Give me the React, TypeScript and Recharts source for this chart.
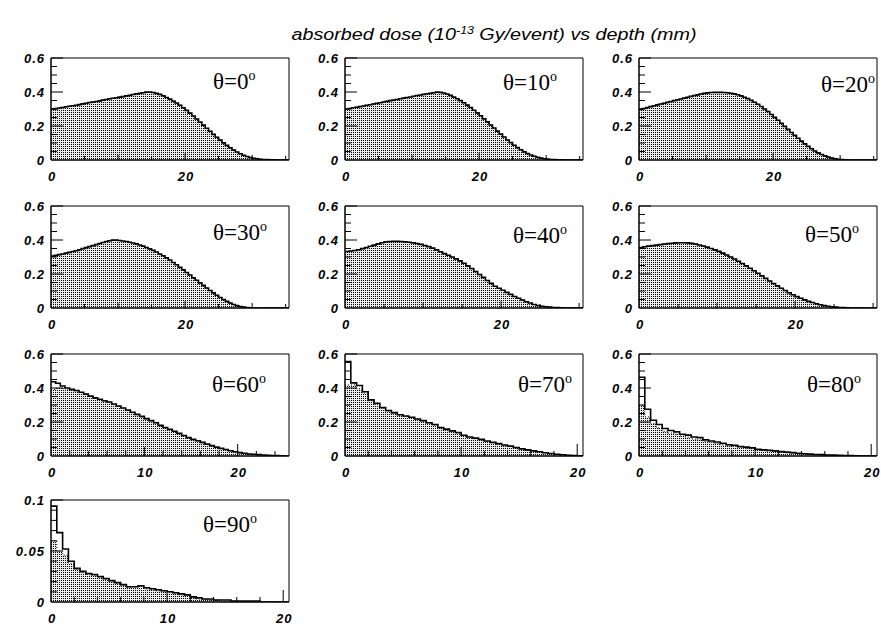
import React from 'react';
import { ComposedChart, Area, Line, XAxis, YAxis, ReferenceArea, ReferenceLine } from 'recharts';

// ---------- data ----------
const BIN_WIDTH = 0.5; // mm
const angles = ['0', '10', '20', '30', '40', '50', '60', '70', '80', '90'];

const theta0Line = [
  0.300, 0.302, 0.306, 0.309, 0.313, 0.316, 0.319, 0.322, 0.326, 0.330,
  0.334, 0.338, 0.341, 0.344, 0.348, 0.352, 0.356, 0.360, 0.363, 0.366,
  0.370, 0.373, 0.377, 0.380, 0.385, 0.389, 0.393, 0.396, 0.399, 0.400,
  0.397, 0.392, 0.386, 0.378, 0.368, 0.358, 0.347, 0.335, 0.322, 0.307,
  0.292, 0.276, 0.259, 0.241, 0.223, 0.205, 0.187, 0.169, 0.151, 0.134,
  0.117, 0.101, 0.086, 0.072, 0.059, 0.047, 0.037, 0.028, 0.021, 0.015,
  0.010, 0.007, 0.004, 0.003, 0.002, 0.001, 0.001, 0, 0, 0, 0,
];
const theta10Line = [
  0.300, 0.303, 0.307, 0.310, 0.314, 0.318, 0.322, 0.325, 0.329, 0.333,
  0.337, 0.341, 0.345, 0.349, 0.352, 0.356, 0.360, 0.364, 0.368, 0.371,
  0.375, 0.379, 0.382, 0.386, 0.390, 0.393, 0.396, 0.399, 0.398, 0.394,
  0.388, 0.380, 0.370, 0.360, 0.349, 0.337, 0.323, 0.309, 0.293, 0.277,
  0.260, 0.242, 0.224, 0.206, 0.188, 0.170, 0.152, 0.135, 0.118, 0.102,
  0.087, 0.073, 0.060, 0.048, 0.038, 0.029, 0.022, 0.016, 0.011, 0.007,
  0.005, 0.003, 0.002, 0.001, 0.001, 0, 0, 0, 0, 0, 0,
];
const theta20Line = [
  0.298, 0.303, 0.308, 0.314, 0.319, 0.324, 0.329, 0.334, 0.339, 0.344,
  0.349, 0.354, 0.359, 0.364, 0.369, 0.374, 0.379, 0.383, 0.388, 0.392,
  0.395, 0.397, 0.398, 0.398, 0.398, 0.397, 0.396, 0.393, 0.389, 0.384,
  0.377, 0.369, 0.361, 0.351, 0.340, 0.328, 0.315, 0.300, 0.285, 0.268,
  0.251, 0.234, 0.216, 0.198, 0.180, 0.162, 0.145, 0.128, 0.111, 0.095,
  0.080, 0.066, 0.053, 0.042, 0.032, 0.024, 0.017, 0.011, 0.007, 0.004,
  0.002, 0.001, 0, 0, 0, 0, 0, 0, 0, 0, 0,
];
const theta30Line = [
  0.305, 0.310, 0.314, 0.318, 0.323, 0.327, 0.332, 0.337, 0.343, 0.349,
  0.355, 0.361, 0.367, 0.373, 0.379, 0.385, 0.391, 0.396, 0.399, 0.399,
  0.397, 0.394, 0.391, 0.387, 0.382, 0.377, 0.371, 0.364, 0.356, 0.348,
  0.339, 0.329, 0.318, 0.307, 0.295, 0.282, 0.268, 0.254, 0.239, 0.224,
  0.209, 0.194, 0.178, 0.163, 0.148, 0.133, 0.118, 0.103, 0.089, 0.075,
  0.062, 0.050, 0.039, 0.029, 0.021, 0.014, 0.009, 0.005, 0.003, 0.001,
  0, 0, 0, 0, 0, 0, 0, 0, 0, 0, 0,
];
const theta40Line = [
  0.332, 0.335, 0.338, 0.343, 0.349, 0.356, 0.363, 0.370, 0.377, 0.384,
  0.389, 0.391, 0.392, 0.392, 0.391, 0.389, 0.387, 0.383, 0.379, 0.374,
  0.368, 0.361, 0.352, 0.342, 0.331, 0.320, 0.310, 0.300, 0.289, 0.277,
  0.263, 0.248, 0.232, 0.215, 0.197, 0.180, 0.162, 0.145, 0.128, 0.116,
  0.104, 0.092, 0.080, 0.068, 0.057, 0.047, 0.037, 0.029, 0.021, 0.015,
  0.010, 0.007, 0.005, 0.003, 0.002, 0.001, 0, 0, 0, 0, 0,
];
const theta50Line = [
  0.355, 0.360, 0.364, 0.367, 0.370, 0.373, 0.376, 0.379, 0.381, 0.383,
  0.384, 0.384, 0.383, 0.380, 0.376, 0.371, 0.365, 0.358, 0.350, 0.342,
  0.333, 0.323, 0.312, 0.300, 0.288, 0.275, 0.262, 0.248, 0.234, 0.219,
  0.204, 0.189, 0.174, 0.159, 0.144, 0.130, 0.116, 0.103, 0.090, 0.078,
  0.067, 0.057, 0.048, 0.039, 0.032, 0.025, 0.019, 0.014, 0.010, 0.007,
  0.005, 0.003, 0.002, 0.001, 0, 0, 0, 0, 0, 0, 0,
];
const theta60Line = [
  0.437, 0.428, 0.412, 0.400, 0.392, 0.385, 0.375, 0.364, 0.352, 0.342,
  0.334, 0.325, 0.318, 0.306, 0.294, 0.282, 0.270, 0.257, 0.245, 0.233,
  0.220, 0.208, 0.196, 0.180, 0.168, 0.157, 0.146, 0.133, 0.121, 0.108,
  0.098, 0.090, 0.080, 0.070, 0.061, 0.052, 0.045, 0.038, 0.031, 0.025,
  0.020, 0.016, 0.012, 0.010, 0.008, 0.006, 0.004, 0.003, 0.002, 0.001, 0,
];
const theta60Fill = [
  0.392, 0.398, 0.398, 0.394, 0.389, 0.383, 0.373, 0.362, 0.350, 0.340,
  0.332, 0.323, 0.316, 0.304, 0.292, 0.280, 0.268, 0.255, 0.243, 0.231,
  0.218, 0.206, 0.194, 0.178, 0.166, 0.155, 0.144, 0.131, 0.119, 0.106,
  0.096, 0.088, 0.078, 0.068, 0.060, 0.051, 0.044, 0.037, 0.030, 0.024,
  0.019, 0.015, 0.011, 0.009, 0.007, 0.005, 0.004, 0.003, 0.002, 0.001, 0,
];
const theta70Line = [
  0.555, 0.430, 0.415, 0.378, 0.330, 0.310, 0.285, 0.268, 0.255, 0.243,
  0.235, 0.228, 0.218, 0.208, 0.196, 0.185, 0.168, 0.158, 0.148, 0.138,
  0.122, 0.112, 0.105, 0.098, 0.088, 0.080, 0.073, 0.065, 0.058, 0.050,
  0.042, 0.036, 0.030, 0.025, 0.019, 0.015, 0.010, 0.007, 0.004, 0.003, 0.001,
];
const theta70Fill = [
  0.418, 0.418, 0.395, 0.370, 0.325, 0.305, 0.280, 0.264, 0.251, 0.240,
  0.232, 0.224, 0.214, 0.204, 0.193, 0.181, 0.165, 0.155, 0.145, 0.135,
  0.120, 0.110, 0.102, 0.095, 0.086, 0.078, 0.071, 0.063, 0.056, 0.048,
  0.041, 0.035, 0.029, 0.024, 0.018, 0.014, 0.009, 0.006, 0.004, 0.002, 0.001,
];
const theta80Line = [
  0.463, 0.275, 0.210, 0.185, 0.162, 0.150, 0.142, 0.128, 0.123, 0.112,
  0.108, 0.095, 0.088, 0.082, 0.075, 0.066, 0.063, 0.056, 0.052, 0.048,
  0.040, 0.036, 0.034, 0.030, 0.026, 0.023, 0.020, 0.016, 0.013, 0.011,
  0.009, 0.008, 0.006, 0.005, 0.004, 0.003, 0.002, 0.001, 0, 0, 0,
];
const theta80Fill = [
  0.300, 0.230, 0.190, 0.165, 0.145, 0.135, 0.128, 0.118, 0.110, 0.100,
  0.095, 0.085, 0.080, 0.074, 0.066, 0.060, 0.056, 0.050, 0.046, 0.042,
  0.036, 0.032, 0.028, 0.025, 0.022, 0.019, 0.016, 0.013, 0.011, 0.009,
  0.008, 0.006, 0.005, 0.004, 0.003, 0.002, 0.001, 0, 0, 0, 0,
];
const theta90Line = [
  0.094, 0.068, 0.052, 0.040, 0.033, 0.030, 0.028, 0.027, 0.025, 0.023,
  0.021, 0.019, 0.017, 0.015, 0.015, 0.016, 0.014, 0.013, 0.012, 0.011,
  0.010, 0.009, 0.008, 0.007, 0.005, 0.004, 0.003, 0.003, 0.002, 0.002,
  0.002, 0.001, 0.001, 0.001, 0.001, 0.001, 0, 0, 0, 0, 0,
];
const theta90Fill = [
  0.060, 0.050, 0.046, 0.038, 0.032, 0.029, 0.027, 0.026, 0.024, 0.022,
  0.020, 0.018, 0.016, 0.014, 0.015, 0.016, 0.013, 0.012, 0.011, 0.010,
  0.009, 0.008, 0.007, 0.006, 0.004, 0.003, 0.003, 0.002, 0.002, 0.001,
  0.001, 0.001, 0, 0, 0, 0, 0, 0, 0, 0, 0,
];

// ticks
const xTicksWide = [0, 5, 10, 15, 20, 25, 30, 35];
const xTicksMid = [0, 5, 10, 15, 20, 25, 30];
const xLabelsWide = [0, 20];
const xTicks60 = [0, 2, 4, 6, 8, 10, 12, 14, 16, 18, 20, 22, 24];
const xTicksNarrow = [0, 2, 4, 6, 8, 10, 12, 14, 16, 18, 20];
const xLabelsNarrow = [0, 10, 20];
const yTicksDose = [0, 0.05, 0.1, 0.15, 0.2, 0.25, 0.3, 0.35, 0.4, 0.45, 0.5, 0.55, 0.6];
const yLabelsDose = [0, 0.2, 0.4, 0.6];
const yTicks90 = [0, 0.01, 0.02, 0.03, 0.04, 0.05, 0.06, 0.07, 0.08, 0.09, 0.1];
const yLabels90 = [0, 0.05, 0.1];

const seriesLines = [theta0Line, theta10Line, theta20Line, theta30Line, theta40Line, theta50Line, theta60Line, theta70Line, theta80Line, theta90Line];
const seriesFills = [theta0Line, theta10Line, theta20Line, theta30Line, theta40Line, theta50Line, theta60Fill, theta70Fill, theta80Fill, theta90Fill];
const xMaxes = [35.5, 35.5, 35.5, 35.5, 30.5, 30.5, 25.5, 20.5, 20.5, 20.5];
const xTickSets = [xTicksWide, xTicksWide, xTicksWide, xTicksWide, xTicksMid, xTicksMid, xTicks60, xTicksNarrow, xTicksNarrow, xTicksNarrow];
const xLabelSets = [xLabelsWide, xLabelsWide, xLabelsWide, xLabelsWide, xLabelsWide, xLabelsWide, xLabelsNarrow, xLabelsNarrow, xLabelsNarrow, xLabelsNarrow];
const yMaxes = [0.6, 0.6, 0.6, 0.6, 0.6, 0.6, 0.6, 0.6, 0.6, 0.1];

// ---------- layout ----------
const PLOT_LEFTS = [51, 345, 639];
const PLOT_TOPS = [58, 206, 354, 500];
const PLOT_W = 238;
const PLOT_H = 102;
const M_LEFT = 40;
const M_TOP = 10;
const M_RIGHT = 10;
const X_AXIS_H = 25;
const LABEL_DX = [162, 158, 182, 162, 168, 166, 161, 173, 168, 152];
const LABEL_DY = [31, 32, 34, 34, 37, 36, 38, 38, 38, 32];

const TICK_FONT = '"Liberation Sans", Arial, Helvetica, sans-serif';
const SERIF_FONT = '"Liberation Serif", "Times New Roman", Times, serif';

function makeRows(line: number[], fill: number[]) {
  const rows = line.map((v, i) => ({ x: i * BIN_WIDTH, line: v, fill: fill[i] }));
  const n = line.length;
  rows.push({ x: n * BIN_WIDTH, line: line[n - 1], fill: fill[n - 1] });
  return rows;
}

function xTickLen(v: number, narrow: boolean) {
  if (v % 20 === 0) return narrow ? 12 : 7;
  if (v % 10 === 0) return narrow ? 9 : 5;
  return narrow ? 5 : 4;
}

function XTickLabel(props: any) {
  const { x, y, payload, labels } = props;
  const v = payload.value;
  if (!labels.includes(v)) return <g />;
  return (
    <text x={x + 1} y={y + 21} textAnchor="middle" fontFamily={TICK_FONT} fontSize={13}
      fontWeight="bold" fontStyle="italic" letterSpacing={1} fill="#000">{String(v)}</text>
  );
}

function YTickLabel(props: any) {
  const { x, y, payload, labels } = props;
  const v = payload.value;
  if (!labels.some((l: number) => Math.abs(l - v) < 1e-9)) return <g />;
  return (
    <text x={x - 6} y={y + 4.5} textAnchor="end" fontFamily={TICK_FONT} fontSize={13}
      fontWeight="bold" fontStyle="italic" letterSpacing={1} fill="#000">{String(v)}</text>
  );
}

function Panel({ idx }: { idx: number }) {
  const col = idx % 3;
  const row = Math.floor(idx / 3);
  const left = PLOT_LEFTS[col];
  const top = PLOT_TOPS[row];
  const rows = makeRows(seriesLines[idx], seriesFills[idx]);
  const xMax = xMaxes[idx];
  const yMax = yMaxes[idx];
  const narrow = xMax < 26;
  const pid = `dots${idx}`;
  const xLabels = xLabelSets[idx];
  const yLabels = idx === 9 ? yLabels90 : yLabelsDose;
  const yTicks = idx === 9 ? yTicks90 : yTicksDose;
  const major = idx === 9 ? 0.05 : 0.2;
  const pxX = xMax / PLOT_W; // data units per pixel
  const pxY = yMax / PLOT_H;
  return (
    <div style={{ position: 'absolute', left: left - M_LEFT, top: top - M_TOP }}>
      <ComposedChart width={M_LEFT + PLOT_W + M_RIGHT} height={M_TOP + PLOT_H + X_AXIS_H} data={rows}
        margin={{ top: M_TOP, right: M_RIGHT, bottom: 0, left: 0 }}>
        <defs>
          <pattern id={pid} width="2" height="2" patternUnits="userSpaceOnUse">
            <rect width="2" height="2" fill="#ebebeb" />
            <rect width="1" height="1" fill="#000000" />
          </pattern>
        </defs>
        <Area type="stepAfter" dataKey="fill" fill={`url(#${pid})`} fillOpacity={1} stroke="#000"
          strokeWidth={1} strokeDasharray="1 2" dot={false} activeDot={false} isAnimationActive={false} />
        <Line type="stepAfter" dataKey="line" stroke="#000" strokeWidth={1.6} dot={false}
          activeDot={false} isAnimationActive={false} />
        <XAxis dataKey="x" type="number" domain={[0, xMax]} allowDataOverflow ticks={xTickSets[idx]}
          interval={0} height={X_AXIS_H} tickSize={0} tickMargin={0} tickLine={false}
          axisLine={{ stroke: '#000', strokeWidth: 1 }}
          tick={(p: any) => <XTickLabel {...p} labels={xLabels} />} />
        <YAxis type="number" domain={[0, yMax]} allowDataOverflow ticks={yTicks}
          interval={0} width={M_LEFT} tickSize={0} tickMargin={0} tickLine={false}
          axisLine={{ stroke: '#000', strokeWidth: 1 }}
          tick={(p: any) => <YTickLabel {...p} labels={yLabels} />} />
        {yTicks.filter((v) => v > 0).map((v) => {
          const isMajor = Math.abs(v / major - Math.round(v / major)) < 1e-6;
          const len = (isMajor ? 12 : 6) * pxX;
          return (
            <ReferenceLine key={`y${v}`} segment={[{ x: 0, y: v }, { x: len, y: v }]} stroke="#000"
              strokeWidth={1} ifOverflow="visible" />
          );
        })}
        {xTickSets[idx].filter((v) => v > 0).map((v) => (
          <ReferenceLine key={`x${v}`} segment={[{ x: v, y: 0 }, { x: v, y: xTickLen(v, narrow) * pxY }]}
            stroke="#000" strokeWidth={1} ifOverflow="visible" />
        ))}
        <ReferenceArea x1={0} x2={xMax} y1={0} y2={yMax} fill="none" fillOpacity={0} stroke="#000"
          strokeWidth={1} ifOverflow="visible" />
      </ComposedChart>
    </div>
  );
}

export default function App() {
  return (
    <div style={{ position: 'absolute', left: 0, top: 0, width: 881, height: 625, background: '#fff', overflow: 'hidden' }}>
      {angles.map((_, i) => <Panel key={i} idx={i} />)}
      <svg width={881} height={625} style={{ position: 'absolute', left: 0, top: 0, pointerEvents: 'none' }}>
        <text x={494} y={40} textAnchor="middle" fontFamily={TICK_FONT} fontSize={16} fontStyle="italic"
          textLength={405} lengthAdjust="spacingAndGlyphs" fill="#000">
          absorbed dose (10<tspan fontSize={10} dy={-6}>-13</tspan><tspan dy={6}> Gy/event) vs depth (mm)</tspan>
        </text>
        {angles.map((a, i) => {
          const col = i % 3;
          const row = Math.floor(i / 3);
          return (
            <text key={a} x={PLOT_LEFTS[col] + LABEL_DX[i]} y={PLOT_TOPS[row] + LABEL_DY[i]}
              fontFamily={SERIF_FONT} fontSize={23} fill="#000">
              θ={a}<tspan fontSize={14} dy={-9}>o</tspan>
            </text>
          );
        })}
      </svg>
    </div>
  );
}
